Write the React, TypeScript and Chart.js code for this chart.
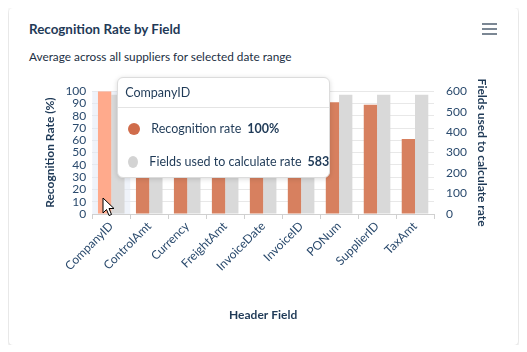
import React, { useEffect, useRef } from "react";
import { Chart, registerables } from "chart.js";

Chart.register(...registerables);

const categories = ["CompanyID", "ControlAmt", "Currency", "FreightAmt", "InvoiceDate", "InvoiceID", "PONum", "SupplierID", "TaxAmt"];
const recognitionRate = [100, 97, 98, 96, 97, 95, 91, 89, 61];
const fieldsUsed = [583, 583, 583, 583, 583, 583, 583, 583, 583];
const rateAxis = [0, 100, 10];
const fieldsAxis = [0, 600, 100];
const activeIndex = 0;

const NAVY = "#1f3a57";
const TICK = "#2a4a6d";
const ORANGE = "#d7805f";
const ORANGE_HOVER = "#ffaa8c";
const ORANGE_DOT = "#d06c4b";
const GRAY = "#d9d9d9";
const GRAY_DOT = "#d3d3d3";
const FONT = "Lato, 'Open Sans', sans-serif";

const hoverBand = {
  id: "hoverBand",
  beforeDatasetsDraw(chart: any) {
    const active = chart.getActiveElements();
    if (!active.length) return;
    const idx = active[0].index;
    const x = chart.scales.x;
    const w = (x.right - x.left) / categories.length;
    const cx = x.getPixelForValue(idx);
    const a = chart.chartArea;
    const ctx = chart.ctx;
    ctx.save();
    ctx.fillStyle = "rgba(226,233,246,0.55)";
    ctx.fillRect(cx - w / 2, a.top, w, a.bottom - a.top);
    ctx.restore();
  },
};

export default function App() {
  const canvasRef = useRef<HTMLCanvasElement | null>(null);
  const tipRef = useRef<HTMLDivElement | null>(null);
  const curRef = useRef<HTMLDivElement | null>(null);

  useEffect(() => {
    const canvas = canvasRef.current!;
    const external = ({ chart, tooltip }: any) => {
      const el = tipRef.current!;
      const cur = curRef.current!;
      if (!tooltip || tooltip.opacity === 0 || !tooltip.dataPoints || !tooltip.dataPoints.length) {
        el.style.display = "none";
        cur.style.display = "none";
        return;
      }
      const dps = tooltip.dataPoints;
      const idx = dps[0].dataIndex;
      const title = categories[idx];
      const rows = dps
        .map((d: any) => {
          const isRate = d.datasetIndex === 0;
          const color = isRate ? ORANGE_DOT : GRAY_DOT;
          const val = isRate ? recognitionRate[idx] + "%" : String(fieldsUsed[idx]);
          return `<div style="display:flex;align-items:center;height:33px;padding-left:10px;">
            <span style="display:inline-block;width:12px;height:12px;border-radius:50%;background:${color};margin-right:11px;"></span>
            <span>${d.dataset.label}</span><span style="font-weight:bold;margin-left:6px;">${val}</span></div>`;
        })
        .join("");
      el.innerHTML = `<div style="height:29px;line-height:30px;padding-left:7px;border-bottom:1px solid #e4e4e4;">${title}</div><div style="padding-top:4px;">${rows}</div>`;
      const x = chart.scales.x;
      const cx = x.getPixelForValue(idx);
      el.style.display = "block";
      el.style.left = canvas.offsetLeft + cx + 6 + "px";
      el.style.top = canvas.offsetTop + chart.chartArea.top - 14 + "px";
      cur.style.display = "block";
      cur.style.left = canvas.offsetLeft + cx - 9 + "px";
      cur.style.top = canvas.offsetTop + chart.chartArea.bottom - 17 + "px";
    };

    const chart = new Chart(canvas, {
      type: "bar",
      data: {
        labels: categories,
        datasets: [
          {
            label: "Recognition rate",
            data: recognitionRate,
            backgroundColor: ORANGE,
            hoverBackgroundColor: ORANGE_HOVER,
            yAxisID: "y",
            categoryPercentage: 0.7,
            barPercentage: 1.0,
          },
          {
            label: "Fields used to calculate rate",
            data: fieldsUsed,
            backgroundColor: GRAY,
            hoverBackgroundColor: GRAY,
            yAxisID: "y1",
            categoryPercentage: 0.7,
            barPercentage: 1.0,
          },
        ],
      },
      options: {
        animation: false,
        responsive: false,
        maintainAspectRatio: false,
        events: [],
        layout: { padding: { left: 0, right: 0, top: 8, bottom: 0 } },
        interaction: { mode: "index", intersect: false },
        plugins: {
          legend: { display: false },
          tooltip: { enabled: false, external },
        },
        scales: {
          x: {
            grid: { drawOnChartArea: false, color: "#d0d0d0", tickLength: 5 },
            border: { color: "#d0d0d0" },
            ticks: { color: TICK, font: { family: FONT, size: 12 }, minRotation: 45, maxRotation: 45, padding: 0 },
            title: { display: true, text: "Header Field", color: NAVY, font: { family: FONT, size: 12, weight: "bold" }, padding: { top: 34, bottom: 0 } },
          },
          y: {
            position: "left",
            min: rateAxis[0],
            max: rateAxis[1],
            ticks: { stepSize: rateAxis[2], autoSkip: false, color: TICK, font: { family: FONT, size: 12 }, padding: 6 },
            grid: { color: "#e8e8e8", drawTicks: false },
            border: { display: false },
            title: { display: true, text: "Recognition Rate (%)", color: NAVY, font: { family: FONT, size: 12, weight: "bold" }, padding: 2 },
          },
          y1: {
            position: "right",
            min: fieldsAxis[0],
            max: fieldsAxis[1],
            afterFit: (scale: any) => {
              scale.width = 55;
            },
            ticks: { stepSize: fieldsAxis[2], autoSkip: false, color: TICK, font: { family: FONT, size: 12 }, padding: 12 },
            grid: { drawOnChartArea: false, drawTicks: false },
            border: { display: false },
            title: { display: true, text: "Fields used to calculate rate", color: NAVY, font: { family: FONT, size: 12, weight: "bold" }, padding: 0 },
          },
        },
      },
      plugins: [hoverBand],
    });

    const act = [
      { datasetIndex: 0, index: activeIndex },
      { datasetIndex: 1, index: activeIndex },
    ];
    chart.setActiveElements(act);
    const xs: any = chart.scales.x;
    chart.tooltip!.setActiveElements(act, { x: xs.getPixelForValue(activeIndex), y: chart.chartArea.bottom - 15 });
    chart.update();

    return () => chart.destroy();
  }, []);

  return (
    <div
      style={{
        position: "relative",
        height: 337,
        marginTop: 0,
        marginLeft: 1,
        width: 509,
        background: "#fff",
        borderRadius: 4,
        boxShadow: "0 1px 4px rgba(0,0,0,0.22)",
        fontFamily: FONT,
        color: NAVY,
        overflow: "visible",
      }}
    >
      <div style={{ position: "absolute", left: 20, top: 13, fontSize: 13.4, fontWeight: "bold", color: NAVY }}>
        Recognition Rate by Field
      </div>
      <div style={{ position: "absolute", right: 21, top: 15, width: 15 }}>
        <div style={{ height: 2, background: "#7b8794", marginBottom: 3 }} />
        <div style={{ height: 2, background: "#7b8794", marginBottom: 3 }} />
        <div style={{ height: 2, background: "#7b8794" }} />
      </div>
      <div style={{ position: "absolute", left: 20, top: 41, fontSize: 11.8, color: "#1c2f44" }}>
        Average across all suppliers for selected date range
      </div>
      <canvas
        ref={canvasRef}
        width={448}
        height={250}
        style={{ position: "absolute", left: 32, top: 64, width: 448, height: 250 }}
      />
      <div
        ref={tipRef}
        style={{
          position: "absolute",
          display: "none",
          width: 211,
          height: 99,
          background: "#fff",
          border: "1px solid #dcdcdc",
          borderRadius: 6,
          boxShadow: "0 1px 5px rgba(0,0,0,0.15)",
          fontSize: 12.5,
          color: NAVY,
          boxSizing: "content-box",
          whiteSpace: "nowrap",
        }}
      />
      <div ref={curRef} style={{ position: "absolute", display: "none", width: 14, height: 20 }}>
        <svg width="14" height="20" viewBox="0 0 14 20">
          <path d="M1 1 L1 16 L4.5 12.5 L7 18.5 L9.5 17.5 L7 11.5 L12 11.5 Z" fill="#fff" stroke="#000" strokeWidth="1" />
        </svg>
      </div>
    </div>
  );
}
